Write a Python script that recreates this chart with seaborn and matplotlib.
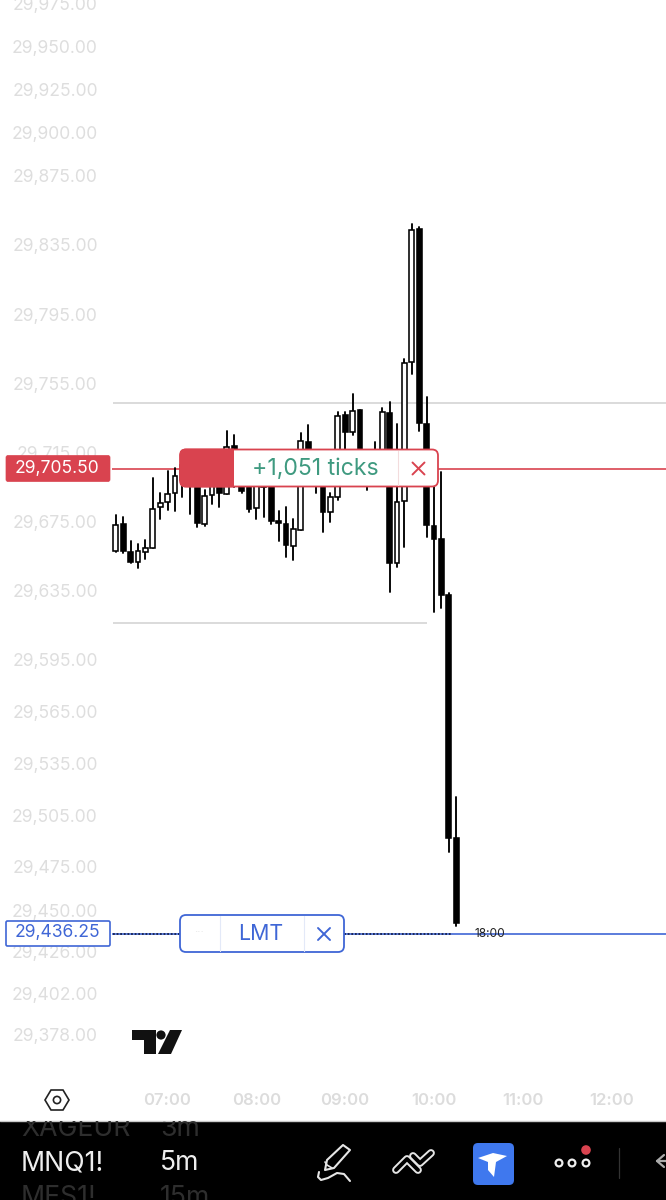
import numpy as np
import pandas as pd
import matplotlib
matplotlib.use("Agg")
import matplotlib.pyplot as plt
from matplotlib.patches import Rectangle, FancyBboxPatch, Polygon, Circle
import seaborn as sns

# candles, 5 minute bars
opens = [29657.9, 29673.5, 29657.3, 29651.5, 29657.3, 29659.6, 29683.4, 29686.3, 29691.5, 29707.7,
         29704.8, 29704.8, 29673.5, 29690.4, 29704.8, 29691.0, 29718.8, 29707.7, 29699.0, 29682.8,
         29695.0, 29704.8, 29675.3, 29673.5, 29660.8, 29670.0, 29721.0, 29704.8, 29704.8, 29680.5,
         29689.2, 29736.7, 29726.9, 29739.6, 29704.8, 29699.0, 29702.0, 29737.9, 29650.9, 29686.9,
         29767.5, 29844.0, 29731.5, 29672.4, 29664.8, 29632.4, 29491.5]
closes = [29673.0, 29657.9, 29651.5, 29657.9, 29659.6, 29682.2, 29685.7, 29691.0, 29701.4, 29699.0,
          29696.1, 29674.1, 29689.8, 29702.0, 29691.5, 29718.2, 29704.8, 29692.7, 29682.2, 29704.8,
          29702.0, 29675.3, 29674.1, 29661.4, 29670.6, 29721.6, 29700.2, 29699.0, 29680.5, 29689.2,
          29736.1, 29726.9, 29739.0, 29702.0, 29696.1, 29704.8, 29738.5, 29650.9, 29686.3, 29766.9,
          29843.4, 29732.1, 29673.0, 29664.8, 29632.4, 29491.5, 29442.8]
highs = [29678.8, 29677.6, 29663.7, 29662.0, 29664.3, 29700.2, 29691.5, 29704.3, 29706.0, 29710.6,
         29709.5, 29707.7, 29693.3, 29707.0, 29709.5, 29727.4, 29725.1, 29711.8, 29704.8, 29709.5,
         29707.7, 29707.7, 29681.0, 29683.4, 29676.4, 29726.3, 29730.9, 29713.5, 29710.6, 29691.5,
         29738.5, 29738.5, 29748.9, 29739.6, 29710.6, 29721.0, 29740.8, 29744.2, 29731.5, 29769.2,
         29846.9, 29845.7, 29747.2, 29699.0, 29703.7, 29633.5, 29515.3]
lows = [29657.3, 29656.7, 29650.9, 29648.0, 29653.3, 29659.6, 29676.4, 29681.7, 29681.0, 29689.2,
        29679.3, 29671.8, 29672.4, 29685.1, 29683.4, 29691.0, 29695.0, 29691.5, 29680.5, 29676.4,
        29677.6, 29673.5, 29663.7, 29654.4, 29652.7, 29670.0, 29696.1, 29691.5, 29668.9, 29674.7,
        29687.5, 29696.1, 29725.1, 29699.0, 29693.2, 29696.1, 29699.0, 29634.1, 29648.6, 29660.2,
        29760.5, 29727.4, 29666.0, 29622.5, 29624.8, 29483.4, 29441.0]

price_ticks = [29975, 29950, 29925, 29900, 29875, 29835, 29795, 29755, 29715, 29675, 29635, 29595,
               29565, 29535, 29505, 29475, 29450, 29426, 29402, 29378]
hour_ticks = [7, 8, 9, 10, 11, 12]
hour_labels = ["07:00", "08:00", "09:00", "10:00", "11:00", "12:00"]

position_price = 29705.50
limit_price = 29436.25
range_top = 29743.7
range_bottom = 29616.2

sns.set_theme(style="white")
plt.rcParams["font.family"] = ["Inter", "DejaVu Sans"]

W, H = 666, 1200
df = pd.DataFrame({"hour": 7 + np.arange(-7, 40) / 12, "open": opens, "close": closes,
                   "high": highs, "low": lows})
df["candle"] = df.index
df["up"] = df["close"] > df["open"]

fig = plt.figure(figsize=(W / 100, H / 100), dpi=100, facecolor="white")

# price/time axes sit where the chart pane is, labels land on the left and below
ax = fig.add_axes([102 / W, 1 - 1085 / H, (W - 102) / W, 1085 / H])
ax.set_xlim(6.262, 12.613)
ax.set_ylim(29348.8, 29976.8)

# reference lines
ax.hlines(range_top, 6.39, 12.619, color="#d8d8d8", lw=1.3, zorder=1)
ax.hlines(range_bottom, 6.39, 9.917, color="#d8d8d8", lw=1.3, zorder=1)
ax.hlines(position_price, 6.37, 12.619, color="#d9434f", lw=1.2, zorder=1)
ax.hlines(limit_price, 6.37, 12.619, color="#3f66d6", lw=1.2, zorder=1)
ax.hlines(limit_price, 6.39, 10.2, color="#15204a", lw=1.3, linestyles=(0, (1, 1)), zorder=2)

# wicks
wicks = df.melt(id_vars=["candle", "hour"], value_vars=["high", "low"], value_name="price")
sns.lineplot(data=wicks, x="hour", y="price", units="candle", estimator=None, color="black",
             lw=1.35, ax=ax, zorder=3, legend=False)

# bodies
body_low = df[["open", "close"]].min(axis=1)
body_h = (df["close"] - df["open"]).abs()
ax.bar(df["hour"], body_h, bottom=body_low, width=0.054,
       color=np.where(df["up"], "white", "black"), edgecolor="black", linewidth=1.15, zorder=4)

ax.set_xticks(hour_ticks)
ax.set_xticklabels(hour_labels)
ax.set_yticks(price_ticks)
ax.set_yticklabels([f"{p:,.2f}" for p in price_ticks])
ax.tick_params(axis="x", length=0, pad=6, labelsize=12, labelcolor="#dcdcdc")
ax.tick_params(axis="y", length=0, pad=3, labelsize=12.6, labelcolor="#dedede")
for lab in ax.get_xticklabels():
    lab.set_fontweight("semibold")
ax.set_xlabel("")
ax.set_ylabel("")
sns.despine(ax=ax, left=True, bottom=True, top=True, right=True)
ax.patch.set_alpha(0)

# overlay in pixel space for the app chrome
ui = fig.add_axes([0, 0, 1, 1], zorder=5)
ui.set_xlim(0, W)
ui.set_ylim(H, 0)
ui.axis("off")
ui.patch.set_alpha(0)


def pill(x0, y0, x1, y1, edge, face="white", lw=1.3, z=6):
    p = FancyBboxPatch((x0 + 6, y0 + 6), x1 - x0 - 12, y1 - y0 - 12, boxstyle="round,pad=6,rounding_size=6",
                       fc=face, ec=edge, lw=lw, zorder=z)
    ui.add_patch(p)
    return p


RED = "#d9434f"
BLUE = "#3f66d6"

# position price tag
ui.add_patch(FancyBboxPatch((6, 455.5), 104, 26, boxstyle="round,pad=0,rounding_size=2", fc=RED, ec=RED, lw=0.5))
ui.text(57, 468, "29,705.50", color="white", fontsize=12.6, ha="center", va="center")

# position pill
pill(180, 449.5, 438, 486.5, RED)
red_part = pill(180, 449.5, 438, 486.5, RED, face=RED, z=7)
red_part.set_clip_path(Rectangle((180, 445), 54, 46, transform=ui.transData))
ui.plot([398, 398], [451, 485], color="#f3dcdd", lw=0.8, zorder=7)
ui.text(315.5, 469, "+1,051 ticks", color="#3f9a80", fontsize=16.6, ha="center", va="center", zorder=8)
ui.plot([412.5, 424.5], [462.5, 474.5], color=RED, lw=1.4, zorder=8)
ui.plot([412.5, 424.5], [474.5, 462.5], color=RED, lw=1.4, zorder=8)

# limit price tag
ui.add_patch(FancyBboxPatch((6, 921), 104, 25, boxstyle="round,pad=0,rounding_size=1.5", fc="white", ec=BLUE, lw=1.2))
ui.text(57, 933, "29,436.25", color=BLUE, fontsize=12.6, ha="center", va="center")

# limit pill
pill(180, 915, 344, 952, BLUE)
ui.plot([219.5, 219.5], [916, 951], color="#e3e9f8", lw=0.8, zorder=7)
ui.plot([303.5, 303.5], [916, 951], color="#e3e9f8", lw=0.8, zorder=7)
ui.text(199, 932, "···", color="#e6e6e6", fontsize=8, ha="center", va="center", zorder=8)
ui.text(261, 934, "LMT", color=BLUE, fontsize=15.4, ha="center", va="center", zorder=8)
ui.plot([318, 330], [928, 940], color=BLUE, lw=1.4, zorder=8)
ui.plot([318, 330], [940, 928], color=BLUE, lw=1.4, zorder=8)

# bar countdown
ui.text(490, 934, "18:00", color="#222222", fontsize=8.6, ha="center", va="center", zorder=6)

# TradingView mark
ui.add_patch(Polygon([(132, 1030), (156, 1030), (156, 1054), (144, 1054), (144, 1040), (132, 1040)], fc="#111111", ec="none"))
ui.add_patch(Circle((161, 1035), 4.6, fc="#111111", ec="none"))
ui.add_patch(Polygon([(170, 1030), (182, 1030), (171, 1054), (158, 1054)], fc="#111111", ec="none"))

# settings hexagon
ui.add_patch(Polygon([(45, 1100), (51, 1090), (63, 1090), (69, 1100), (63, 1110), (51, 1110)], fc="none", ec="#222222", lw=1.2))
ui.add_patch(Circle((57, 1100), 3.6, fc="none", ec="#222222", lw=1.2))

# bottom toolbar
ui.add_patch(Rectangle((0, 1121), W, 79, fc="black", ec="none", zorder=6))
ui.plot([0, W], [1120.5, 1120.5], color="#c8c8c8", lw=1, zorder=6)
band = Rectangle((0, 1121), W, 79, transform=ui.transData)
for tx, ty, s, c in [(21, 1129, "XAGEUR", "#2e2e2e"), (160, 1129, "3m", "#2e2e2e"),
                     (21, 1163, "MNQ1!", "#eeeeee"), (160, 1163, "5m", "#eeeeee"),
                     (21, 1198, "MES1!", "#2e2e2e"), (160, 1198, "15m", "#2e2e2e")]:
    t = ui.text(tx, ty, s, color=c, fontsize=19.2, ha="left", va="center", zorder=7)
    t.set_clip_path(band)
    t.set_clip_on(True)

# pen
ui.add_patch(Polygon([(325, 1170), (327, 1160), (343, 1145), (350, 1150), (334, 1168)], fc="none", ec="#e6e6e6", lw=1.5, joinstyle="round", zorder=7))
ui.plot([325, 327, 332], [1162, 1165, 1168], color="#e6e6e6", lw=1.2, zorder=7)
ui.plot([319, 318, 321, 328, 337, 344, 350], [1172, 1177, 1180, 1178, 1173, 1174, 1181], color="#e6e6e6", lw=1.5, zorder=7)
# trend tool, outlined chevrons
for xs, ys in [([396, 407, 418], [1170, 1159, 1170]), ([413, 420, 431], [1156, 1163, 1153])]:
    ui.plot(xs, ys, color="#e6e6e6", lw=5.6, solid_capstyle="round", zorder=7)
    ui.plot(xs, ys, color="black", lw=2.8, solid_capstyle="round", zorder=8)
# blue app button
ui.add_patch(FancyBboxPatch((477, 1147), 33, 34, boxstyle="round,pad=4,rounding_size=5", fc="#3f78ee", ec="none", zorder=7))
ui.add_patch(Polygon([(478, 1158), (493, 1153), (507, 1156), (496, 1162), (494, 1177), (488, 1170), (488, 1162)], fc="white", ec="none", zorder=8))
# more dots
for cx in [559, 572, 586]:
    ui.add_patch(Circle((cx, 1163), 3.4, fc="none", ec="#eeeeee", lw=1.6, zorder=7))
ui.add_patch(Circle((586, 1150), 4.8, fc=RED, ec="none", zorder=8))
ui.plot([619, 619], [1148, 1178], color="#333333", lw=0.9, zorder=7)
# back arrow
ui.plot([664, 657, 664], [1155, 1161, 1167], color="#aaaaaa", lw=1.6, zorder=7)
ui.plot([657, 666], [1161, 1161], color="#aaaaaa", lw=1.6, zorder=7)

fig.savefig("out.png", dpi=100)
